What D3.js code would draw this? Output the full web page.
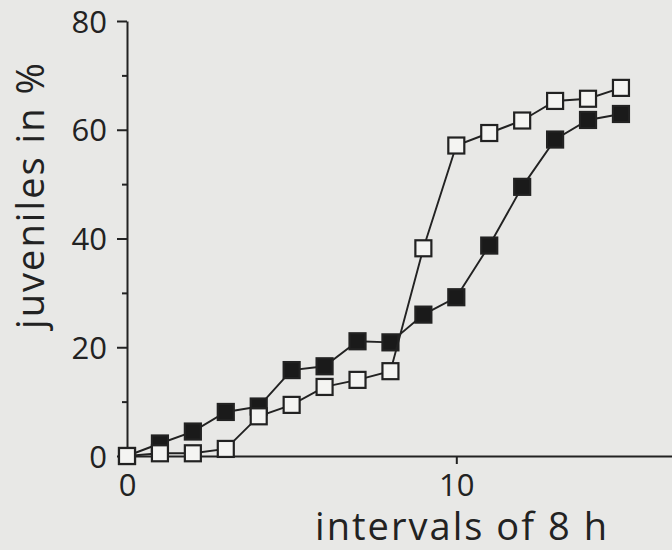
<!DOCTYPE html>
<html>
<head>
<meta charset="utf-8">
<script src="https://cdn.jsdelivr.net/npm/d3@7"></script>
<style>
	body { margin: 0; background: #e8e8e6; }
	svg { display: block; }
	.axis path, .axis line { stroke: #222; stroke-width: 2; }
	.axis text { font-family: 'Open Sans', sans-serif; font-size: 31px; fill: #222; }
	.label { font-family: 'Open Sans', sans-serif; font-size: 38px; fill: #222; }
</style>
</head>
<body>
<svg id="chart" width="672" height="550"></svg>
<script>
// intervals of 8 h
const intervals = [0, 1, 2, 3, 4, 5, 6, 7, 8, 9, 10, 11, 12, 13, 14, 15];
// juveniles in %, open squares
const openValues = [0, 0.5, 0.5, 1.3, 7.3, 9.4, 12.7, 14.0, 15.6, 38.2, 57.1, 59.4, 61.7, 65.3, 65.7, 67.7];
// juveniles in %, filled squares
const filledValues = [0, 2.3, 4.5, 8.1, 9.1, 15.8, 16.5, 21.1, 20.9, 26.0, 29.2, 38.7, 49.5, 58.2, 61.8, 62.9];

const yMajorTicks = [0, 20, 40, 60, 80];
const yMinorTicks = [10, 30, 50, 70];
const xTicks = [0, 10];

const svg = d3.select('#chart');

const x = d3.scaleLinear()
	.domain([0, 16.55])
	.range([127, 672]);

const y = d3.scaleLinear()
	.domain([0, 80])
	.range([456, 21]);

// y axis, major and minor ticks
svg.append('g')
	.attr('class', 'axis')
	.attr('transform', `translate(${x(0)},0)`)
	.call(d3.axisLeft(y).tickValues(yMajorTicks).tickSize(10).tickSizeOuter(0).tickPadding(10))
	.call(g => g.selectAll('text').attr('dy', '0.36em'));

svg.append('g')
	.attr('class', 'axis')
	.attr('transform', `translate(${x(0)},0)`)
	.call(d3.axisLeft(y).tickValues(yMinorTicks).tickSize(5).tickFormat(''))
	.call(g => g.select('.domain').remove());

// x axis
svg.append('g')
	.attr('class', 'axis')
	.attr('transform', `translate(0,${y(0)})`)
	.call(d3.axisBottom(x).tickValues(xTicks).tickSize(8).tickSizeOuter(0).tickPadding(10));

svg.append('text')
	.attr('class', 'label')
	.attr('x', 461)
	.attr('y', 540)
	.attr('text-anchor', 'middle')
	.attr('textLength', 292)
	.text('intervals of 8 h');

svg.append('text')
	.attr('class', 'label')
	.attr('transform', 'translate(44,196) rotate(-90)')
	.attr('text-anchor', 'middle')
	.attr('textLength', 266)
	.text('juveniles in %');

const line = d3.line()
	.x((d, i) => x(intervals[i]))
	.y(d => y(d));

const markSize = 16;

function drawSeries(values, fill) {
	svg.append('path')
		.datum(values)
		.attr('fill', 'none')
		.attr('stroke', '#222')
		.attr('stroke-width', 1.9)
		.attr('d', line);

	svg.selectAll(null)
		.data(values)
		.enter().append('rect')
		.attr('x', (d, i) => x(intervals[i]) - markSize / 2)
		.attr('y', d => y(d) - markSize / 2)
		.attr('width', markSize)
		.attr('height', markSize)
		.attr('fill', fill)
		.attr('stroke', '#222')
		.attr('stroke-width', 2.2);
}

drawSeries(filledValues, '#1a1a1a');
drawSeries(openValues, '#f4f4f2');
</script>
</body>
</html>
